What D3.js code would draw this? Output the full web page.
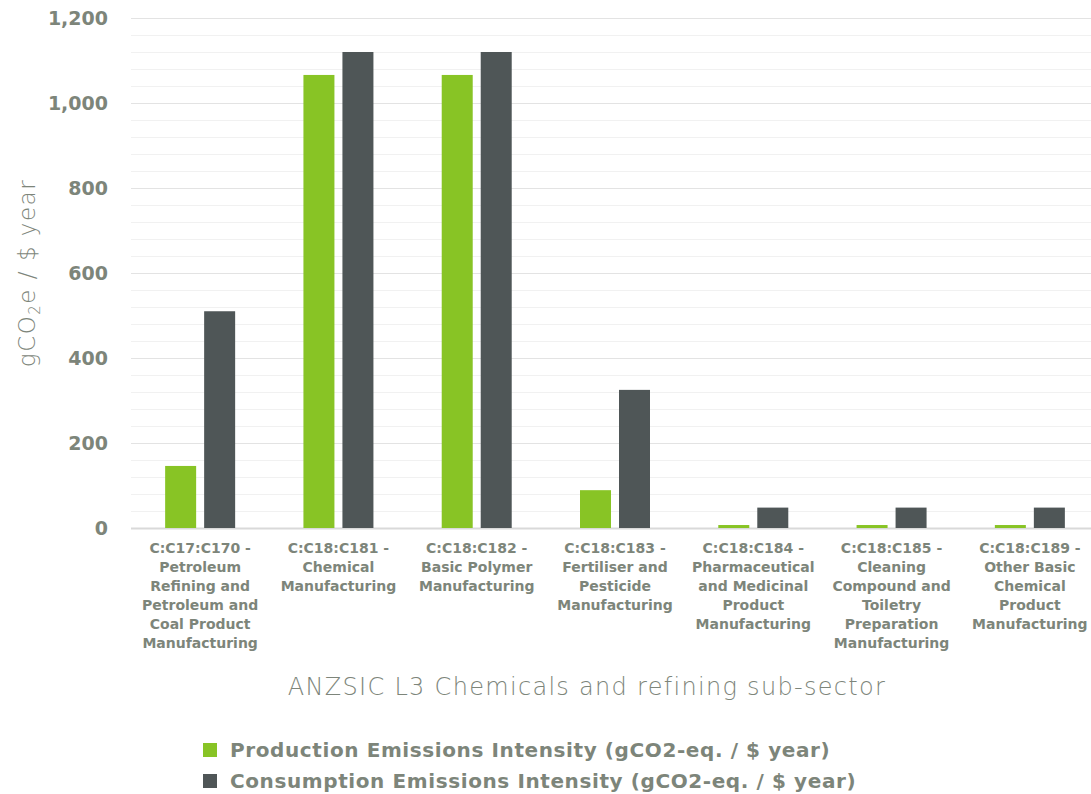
<!DOCTYPE html>
<html>
<head>
<meta charset="utf-8">
<script src="https://cdn.jsdelivr.net/npm/d3@7"></script>
<style>
  html, body { margin: 0; padding: 0; background: #fff; }
  svg { display: block; }
</style>
</head>
<body>
<svg id="chart" width="1091" height="794"></svg>
<script>
// Sub-sector categories, each label split into display lines
const categories = [
  ["C:C17:C170 -", "Petroleum", "Refining and", "Petroleum and", "Coal Product", "Manufacturing"],
  ["C:C18:C181 -", "Chemical", "Manufacturing"],
  ["C:C18:C182 -", "Basic Polymer", "Manufacturing"],
  ["C:C18:C183 -", "Fertiliser and", "Pesticide", "Manufacturing"],
  ["C:C18:C184 -", "Pharmaceutical", "and Medicinal", "Product", "Manufacturing"],
  ["C:C18:C185 -", "Cleaning", "Compound and", "Toiletry", "Preparation", "Manufacturing"],
  ["C:C18:C189 -", "Other Basic", "Chemical", "Product", "Manufacturing"]
];
const production = [146, 1066, 1066, 89, 7, 7, 7];
const consumption = [510, 1120, 1120, 325, 48, 48, 48];
const seriesNames = [
  "Production Emissions Intensity (gCO2-eq. / $ year)",
  "Consumption Emissions Intensity (gCO2-eq. / $ year)"
];
const seriesColors = ["#88c425", "#4f5657"];
const yTicks = [0, 200, 400, 600, 800, 1000, 1200];

const svg = d3.select("#chart");
const textColor = "#7d857a";
const font = "'DejaVu Sans', sans-serif";

const plot = { left: 131, right: 1099, top: 18, bottom: 528 };

const keys = categories.map((c, i) => i);
const x0 = d3.scaleBand().domain(keys).range([plot.left, plot.right]).paddingInner(0).paddingOuter(0);
const y = d3.scaleLinear().domain([0, 1200]).range([plot.bottom, plot.top]);

// Gridlines: minor every 40, major every 200
const minor = d3.range(0, 1201, 40);
svg.append("g").selectAll("line").data(minor).join("line")
  .attr("x1", plot.left).attr("x2", 1091)
  .attr("y1", d => y(d) + 0.5).attr("y2", d => y(d) + 0.5)
  .attr("stroke", d => d === 0 ? "#d9d9d9" : (d % 200 === 0 ? "#e3e3e3" : "#f1f1f1"))
  .attr("stroke-width", d => d === 0 ? 2 : 1);

// Y axis labels
const yAxis = d3.axisLeft(y).tickValues(yTicks).tickSize(0).tickPadding(0)
  .tickFormat(d3.format(","));
const gy = svg.append("g").attr("transform", `translate(${plot.left - 23},0)`).call(yAxis);
gy.select(".domain").remove();
gy.selectAll("text")
  .attr("fill", textColor).attr("font-family", font)
  .attr("font-weight", 700).attr("font-size", 19).attr("dy", "0.36em");

// Bars
const barW = 31, gap = 8;
const groups = svg.append("g").selectAll("g").data(keys).join("g")
  .attr("transform", i => `translate(${x0(i) + x0.bandwidth() / 2},0)`);
groups.append("rect")
  .attr("x", -gap / 2 - barW).attr("width", barW)
  .attr("y", i => y(production[i])).attr("height", i => y(0) - y(production[i]))
  .attr("fill", seriesColors[0]);
groups.append("rect")
  .attr("x", gap / 2).attr("width", barW)
  .attr("y", i => y(consumption[i])).attr("height", i => y(0) - y(consumption[i]))
  .attr("fill", seriesColors[1]);

// Category labels
groups.append("text")
  .attr("text-anchor", "middle")
  .attr("fill", textColor).attr("font-family", font)
  .attr("font-weight", 700).attr("font-size", 14)
  .selectAll("tspan").data(i => categories[i]).join("tspan")
  .attr("x", 0).attr("y", (d, j) => 553 + j * 19)
  .text(d => d);

// Axis titles
svg.append("text")
  .attr("x", 587).attr("y", 695).attr("text-anchor", "middle")
  .attr("fill", textColor).attr("font-family", font)
  .attr("font-weight", 200).attr("font-size", 24).attr("letter-spacing", 1.3)
  .text("ANZSIC L3 Chemicals and refining sub-sector");

const yt = svg.append("text")
  .attr("transform", "translate(35,273) rotate(-90)")
  .attr("text-anchor", "middle")
  .attr("fill", textColor).attr("font-family", font)
  .attr("font-weight", 200).attr("font-size", 23).attr("letter-spacing", 1.5);
yt.append("tspan").text("gCO");
yt.append("tspan").attr("font-size", 15).attr("dy", 5).text("2");
yt.append("tspan").attr("dy", -5).text("e / $ year");

// Legend
const legend = svg.append("g").selectAll("g").data(seriesNames).join("g")
  .attr("transform", (d, i) => `translate(203,${743 + i * 31})`);
legend.append("rect").attr("width", 14).attr("height", 14)
  .attr("fill", (d, i) => seriesColors[i]);
legend.append("text")
  .attr("x", 27).attr("y", 14)
  .attr("fill", textColor).attr("font-family", font)
  .attr("font-weight", 700).attr("font-size", 20).attr("letter-spacing", 0.6)
  .text(d => d);
</script>
</body>
</html>
